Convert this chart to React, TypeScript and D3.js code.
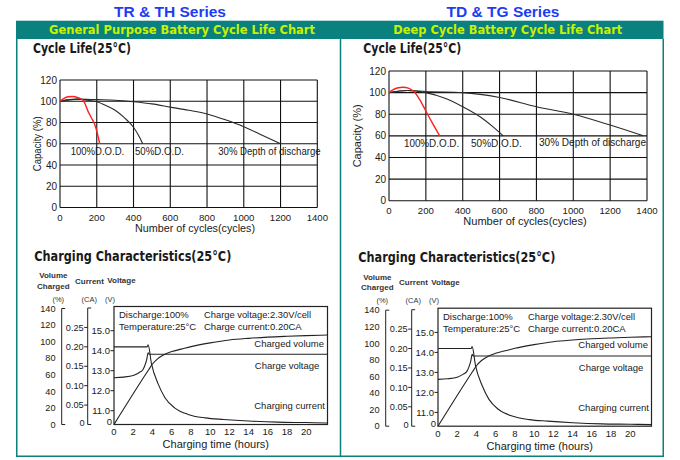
import React from "react";
import * as d3 from "d3";

type Pt = [number, number];

// ---------- Cycle life data ----------
const cycleTicks = [0, 200, 400, 600, 800, 1000, 1200, 1400];
const capacityTicks = [0, 20, 40, 60, 80, 100, 120];

// TR & TH (general purpose)
const trDod100: Pt[] = [[0, 100], [20, 102.5], [45, 104.2], [70, 104.5], [95, 103.5], [115, 102], [128, 100.5], [140, 96], [154, 90], [172, 84], [188, 78.5], [200, 72], [216, 60]];
const trDod50: Pt[] = [[0, 100], [50, 101.5], [100, 102], [150, 101], [200, 99.5], [250, 96], [300, 91.5], [350, 84.5], [400, 75.5], [430, 67], [450, 60]];
const trDod30: Pt[] = [[0, 100], [100, 102], [200, 101.5], [300, 101], [400, 99.5], [500, 97.5], [600, 94.5], [700, 91.5], [800, 88], [900, 82.5], [1000, 76], [1100, 68], [1200, 60]];

// TD & TG (deep cycle)
const tdDod100: Pt[] = [[0, 100], [25, 103], [50, 104.5], [75, 105], [105, 104.2], [135, 101], [165, 94], [200, 83], [235, 72], [275, 60]];
const tdDod50: Pt[] = [[0, 100], [100, 102], [200, 100], [300, 95], [400, 87], [500, 77], [560, 69], [620, 60]];
const tdDod30: Pt[] = [[0, 100], [100, 102], [200, 101], [400, 100], [600, 95.5], [800, 87], [1000, 80], [1200, 70], [1380, 60]];

// ---------- Charging characteristics data ----------
const hourTicks = [0, 2, 4, 6, 8, 10, 12, 14, 16, 18, 20];
const volumeTicks = [0, 20, 40, 60, 80, 100, 120, 140];
const currentTicks = [0.05, 0.1, 0.15, 0.2, 0.25];
const voltageTicks = [11, 12, 13, 14, 15];

const chargedVolume: Pt[] = [[0, 0], [3.6, 66], [4, 73], [4.5, 79], [5, 83], [6, 88], [7, 91], [8, 94], [10, 98.5], [12, 102], [14, 104], [16, 105.5], [18, 106.5], [20, 107.3], [22.2, 108]];
const chargeVoltage: Pt[] = [[0, 12.65], [1, 12.68], [2, 12.76], [2.6, 12.9], [3, 13.05], [3.2, 13.25], [3.4, 13.55], [3.55, 13.9], [3.65, 13.82], [22.2, 13.82]];
const chargeCurrent: Pt[] = [[0, 0.2], [3.45, 0.2], [3.55, 0.205], [3.9, 0.156], [4.6, 0.104], [5.3, 0.069], [6.3, 0.043], [7.7, 0.026], [9.5, 0.017], [11.4, 0.013], [14, 0.009], [17, 0.006], [20, 0.005], [22.2, 0.004]];

const SANS = "'Liberation Sans', Arial, Helvetica, sans-serif";
const HEAVY = "'DejaVu Sans Condensed', 'DejaVu Sans', 'Liberation Sans', sans-serif";
const TEAL = "#0a807f";
const INK = "#1a1a1a";

type CycleProps = {
  left: number; right: number; top: number; bottom: number;
  red: Pt[]; d50: Pt[]; d30: Pt[];
  titleX: number;
  lab100: [number, number, number]; lab50: [number, number, number]; lab30: [number, number, number];
  xTitleX: number; xTitleLen: number; yTitleX: number; yTitleLen: number;
};

function HeavyTitle({ x, y, len, label }: { x: number; y: number; len: number; label: string }) {
  return (
    <text x={x} y={y} fontFamily={HEAVY} fontWeight="bold" fontSize={14} fill={INK} textLength={len} lengthAdjust="spacingAndGlyphs" style={{ fontStretch: "condensed" }}>
      {label}
    </text>
  );
}

function CycleChart(p: CycleProps) {
  const x = d3.scaleLinear().domain([0, 1400]).range([p.left, p.right]);
  const y = d3.scaleLinear().domain([0, 120]).range([p.bottom, p.top]);
  const line = d3.line<Pt>().x((d) => x(d[0])).y((d) => y(d[1])).curve(d3.curveMonotoneX);
  const midY = (p.top + p.bottom) / 2;
  return (
    <g>
      <HeavyTitle x={p.titleX} y={53} len={98} label="Cycle Life(25°C)" />
      {cycleTicks.map((t) => (
        <line key={"gx" + t} x1={x(t)} x2={x(t)} y1={p.top} y2={p.bottom} stroke="#111" strokeWidth={1.1} />
      ))}
      {capacityTicks.map((t) => (
        <line key={"gy" + t} x1={p.left} x2={p.right} y1={y(t)} y2={y(t)} stroke="#111" strokeWidth={1.1} />
      ))}
      {capacityTicks.map((t) => (
        <text key={"ly" + t} x={p.left - 3} y={y(t)} dy="0.36em" textAnchor="end" fontFamily={SANS} fontSize={10} fill={INK}>{t}</text>
      ))}
      {cycleTicks.map((t) => (
        <text key={"lx" + t} x={x(t)} y={p.bottom + 13.7} textAnchor="middle" fontFamily={SANS} fontSize={9.6} fill={INK}>{t}</text>
      ))}
      <path d={line(p.d30) || ""} fill="none" stroke="#2a2a2a" strokeWidth={1.1} />
      <path d={line(p.d50) || ""} fill="none" stroke="#2a2a2a" strokeWidth={1.1} />
      <path d={line(p.red) || ""} fill="none" stroke="#ff1f1f" strokeWidth={1.4} />
      <text x={x(p.lab100[0])} y={y(p.lab100[1])} fontFamily={SANS} fontSize={10} fill={INK} textLength={p.lab100[2]} lengthAdjust="spacingAndGlyphs">100%D.O.D.</text>
      <text x={x(p.lab50[0])} y={y(p.lab50[1])} fontFamily={SANS} fontSize={10} fill={INK} textLength={p.lab50[2]} lengthAdjust="spacingAndGlyphs">50%D.O.D.</text>
      <text x={x(p.lab30[0])} y={y(p.lab30[1])} fontFamily={SANS} fontSize={10} fill={INK} textLength={p.lab30[2]} lengthAdjust="spacingAndGlyphs">30% Depth of discharge</text>
      <text x={p.xTitleX} y={p.bottom + 24.4} textAnchor="middle" fontFamily={SANS} fontSize={11} fill={INK} textLength={p.xTitleLen} lengthAdjust="spacingAndGlyphs">Number of cycles(cycles)</text>
      <text transform={`translate(${p.yTitleX},${midY}) rotate(-90)`} textAnchor="middle" fontFamily={SANS} fontSize={10} fill={INK} textLength={p.yTitleLen} lengthAdjust="spacingAndGlyphs">Capacity (%)</text>
    </g>
  );
}

function ChargeChart({ dx, dy }: { dx: number; dy: number }) {
  const L = 114, R = 327.5, T = 306.5, B = 424.5;
  const x = d3.scaleLinear().domain([0, 22.2]).range([L, R]);
  const yVol = d3.scaleLinear().domain([0, 140]).range([B, 308.5]);
  const yCur = d3.scaleLinear().domain([0, 0.3]).range([B, 308]);
  const yVolt = d3.scaleLinear().domain([11, 15]).range([410.7, 330.7]);
  const volLine = d3.line<Pt>().x((d) => x(d[0])).y((d) => yVol(d[1])).curve(d3.curveMonotoneX);
  const curLine = d3.line<Pt>().x((d) => x(d[0])).y((d) => yCur(d[1])).curve(d3.curveMonotoneX);
  const voltLine = d3.line<Pt>().x((d) => x(d[0])).y((d) => yVolt(d[1])).curve(d3.curveMonotoneX);
  const volX = 61.7, curX = 87.7;
  const stroke = "#222";
  return (
    <g transform={`translate(${dx},${dy})`}>
      <HeavyTitle x={34.3} y={260.5} len={197} label="Charging Characteristics(25°C)" />
      {/* headers */}
      <g fontFamily={SANS} fontWeight="bold" fontSize={8} fill="#333">
        <text x={53.3} y={278} textAnchor="middle">Volume</text>
        <text x={53.3} y={288.5} textAnchor="middle">Charged</text>
        <text x={75} y={283.5}>Current</text>
        <text x={107.3} y={283}>Voltage</text>
      </g>
      <g fontFamily={SANS} fontSize={7.5} fill="#333">
        <text x={58.3} y={301.7} textAnchor="middle">(%)</text>
        <text x={89.3} y={301.7} textAnchor="middle">(CA)</text>
        <text x={110} y={301.7} textAnchor="middle">(V)</text>
      </g>
      {/* volume axis */}
      <path d={`M${volX + 3.5},${yVol(140)}H${volX}V${yVol(0)}H${volX + 3.5}`} fill="none" stroke={stroke} strokeWidth={1} />
      {volumeTicks.map((t) => (
        <text key={"v" + t} x={55.5} y={yVol(t)} dy="0.35em" textAnchor="end" fontFamily={SANS} fontSize={9.2} fill={INK}>{t}</text>
      ))}
      {/* current axis */}
      <path d={`M${curX + 3.5},${yCur(0.3)}H${curX}V${yCur(0)}H${curX + 3.5}`} fill="none" stroke={stroke} strokeWidth={1} />
      {currentTicks.map((t) => (
        <g key={"c" + t}>
          <line x1={curX - 3.5} x2={curX} y1={yCur(t)} y2={yCur(t)} stroke={stroke} strokeWidth={1} />
          <text x={curX - 4} y={yCur(t)} dy="0.35em" textAnchor="end" fontFamily={SANS} fontSize={9.2} fill={INK}>{t.toFixed(2)}</text>
        </g>
      ))}
      <text x={curX - 3} y={yCur(0)} dy="0.2em" textAnchor="end" fontFamily={SANS} fontSize={9.2} fill={INK}>0</text>
      {/* voltage axis */}
      {voltageTicks.map((t) => (
        <g key={"u" + t}>
          <line x1={L - 3.5} x2={L} y1={yVolt(t)} y2={yVolt(t)} stroke={stroke} strokeWidth={1} />
          <text x={L - 4} y={yVolt(t)} dy="0.35em" textAnchor="end" fontFamily={SANS} fontSize={9.5} fill={INK}>{t.toFixed(1)}</text>
        </g>
      ))}
      <text x={L - 2} y={B} dy="0.1em" textAnchor="end" fontFamily={SANS} fontSize={9.5} fill={INK}>0</text>
      {/* box */}
      <rect x={L} y={T} width={R - L} height={B - T} fill="none" stroke={stroke} strokeWidth={1.2} />
      {hourTicks.map((t) => (
        <text key={"h" + t} x={x(t)} y={B + 10.5} textAnchor="middle" fontFamily={SANS} fontSize={9.5} fill={INK}>{t}</text>
      ))}
      <text x={215.8} y={448.3} textAnchor="middle" fontFamily={SANS} fontSize={11} fill={INK}>Charging time (hours)</text>
      {/* annotations */}
      <g fontFamily={SANS} fontSize={9.5} fill={INK}>
        <text x={119} y={318.3}>Discharge:100%</text>
        <text x={119} y={330}>Temperature:25°C</text>
        <text x={204} y={318.3} textLength={107} lengthAdjust="spacingAndGlyphs">Charge voltage:2.30V/cell</text>
        <text x={204} y={330}>Charge current:0.20CA</text>
        <text x={324} y={346.7} textAnchor="end">Charged volume</text>
        <text x={319.3} y={369.3} textAnchor="end">Charge voltage</text>
        <text x={325} y={409} textAnchor="end">Charging current</text>
      </g>
      {/* curves */}
      <path d={curLine(chargeCurrent) || ""} fill="none" stroke={stroke} strokeWidth={1.1} />
      <path d={voltLine(chargeVoltage) || ""} fill="none" stroke={stroke} strokeWidth={1.1} />
      <path d={volLine(chargedVolume) || ""} fill="none" stroke={stroke} strokeWidth={1.1} />
    </g>
  );
}

export default function App() {
  return (
    <svg width={680} height={460} viewBox="0 0 680 460" style={{ position: "absolute", left: 0, top: 0, background: "#fff" }}>
      <rect x={0} y={0} width={680} height={460} fill="#fff" />
      <text x={170} y={16.7} textAnchor="middle" fontFamily={SANS} fontWeight="bold" fontSize={15.5} fill="#1d3cf5">TR &amp; TH Series</text>
      <text x={503} y={16.7} textAnchor="middle" fontFamily={SANS} fontWeight="bold" fontSize={15.5} fill="#1d3cf5">TD &amp; TG Series</text>
      <rect x={16} y={20.7} width={647.5} height={18.3} fill={TEAL} />
      <text x={49} y={33.5} fontFamily="'DejaVu Sans', sans-serif" fontWeight="bold" fontSize={11.5} fill="#c8f200" textLength={266} lengthAdjust="spacingAndGlyphs">General Purpose Battery Cycle Life Chart</text>
      <text x={393.3} y={33.5} fontFamily="'DejaVu Sans', sans-serif" fontWeight="bold" fontSize={11.5} fill="#c8f200" textLength={229} lengthAdjust="spacingAndGlyphs">Deep Cycle Battery Cycle Life Chart</text>
      <path d="M16.75,39V456.25H663.25V39" fill="none" stroke={TEAL} strokeWidth={1.5} />
      <line x1={340.5} x2={340.5} y1={39} y2={456} stroke={TEAL} strokeWidth={1.5} />
      <CycleChart left={60} right={317.3} top={80} bottom={207.5} red={trDod100} d50={trDod50} d30={trDod30}
        titleX={33} lab100={[58, 49.4, 53.6]} lab50={[408, 49.4, 49]} lab30={[861, 49.4, 102.4]}
        xTitleX={195} xTitleLen={120} yTitleX={40.5} yTitleLen={55} />
      <CycleChart left={389} right={647} top={71} bottom={200.7} red={tdDod100} d50={tdDod50} d30={tdDod30}
        titleX={363.3} lab100={[81, 49.4, 55.3]} lab50={[445, 49.4, 50.7]} lab30={[814, 51, 107]}
        xTitleX={525} xTitleLen={123.4} yTitleX={360.5} yTitleLen={63} />
      <ChargeChart dx={0} dy={0} />
      <ChargeChart dx={324} dy={1.7} />
    </svg>
  );
}
